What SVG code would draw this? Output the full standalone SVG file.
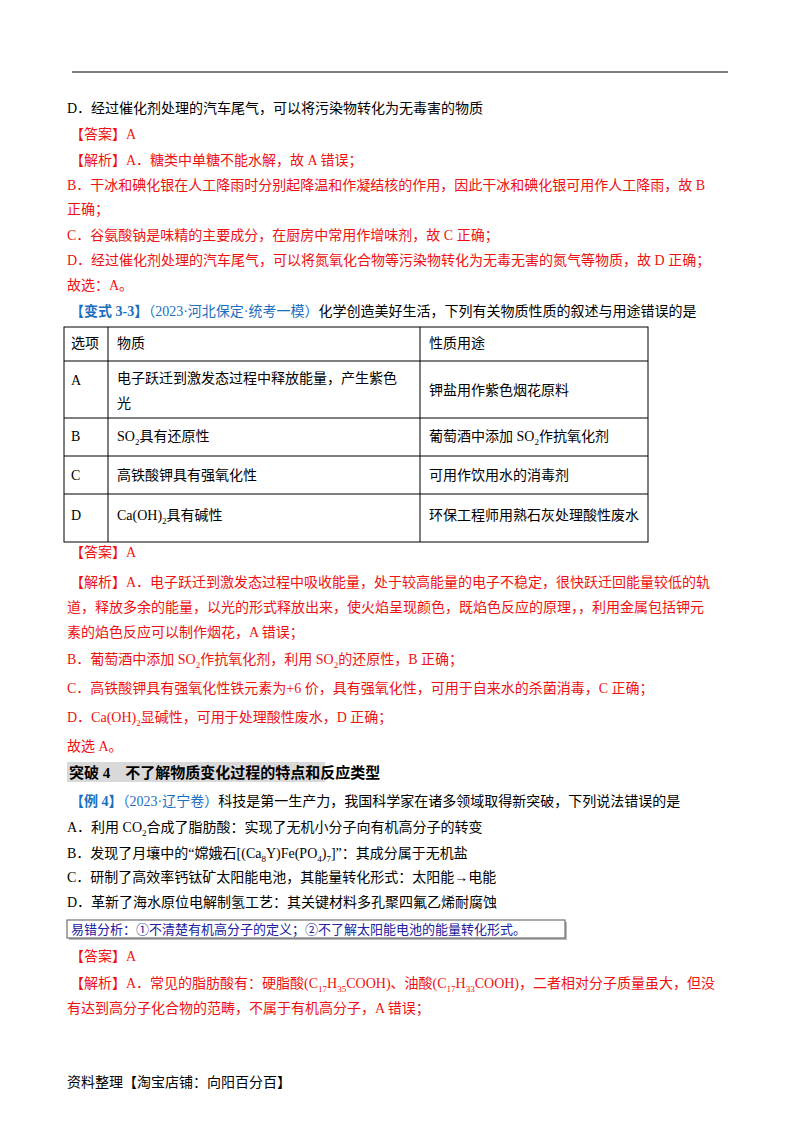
<svg xmlns="http://www.w3.org/2000/svg" width="800" height="1132" viewBox="0 0 800 1132">
<style>
text{font-family:"Liberation Serif","Noto Sans CJK SC",serif;font-size:14px;fill:#000}
.r{fill:#ee1111}
.b{fill:#1a6fc0}
.s{font-size:9px}
.tb{stroke:#000;stroke-width:1;fill:none}
.h{font-weight:bold;font-size:15px}
.k{fill:#2020a0;font-size:13px}
</style>
<rect width="800" height="1132" fill="#fff"/>
<line x1="72" y1="72" x2="728" y2="72" stroke="#000" stroke-width="1"/>
<text x="67" y="113">D．经过催化剂处理的汽车尾气，可以将污染物转化为无毒害的物质</text>
<text x="70" y="139" class="r">【答案】A</text>
<text x="70" y="165" class="r">【解析】A．糖类中单糖不能水解，故 A 错误；</text>
<text x="67" y="190" class="r">B．干冰和碘化银在人工降雨时分别起降温和作凝结核的作用，因此干冰和碘化银可用作人工降雨，故 B</text>
<text x="67" y="214" class="r">正确；</text>
<text x="67" y="240" class="r">C．谷氨酸钠是味精的主要成分，在厨房中常用作增味剂，故 C 正确；</text>
<text x="67" y="265" class="r">D．经过催化剂处理的汽车尾气，可以将氮氧化合物等污染物转化为无毒无害的氮气等物质，故 D 正确；</text>
<text x="67" y="290" class="r">故选：A。</text>
<text x="70" y="316"><tspan class="b" font-weight="bold">【变式 3-3】</tspan><tspan class="b">（2023·河北保定·统考一模）</tspan>化学创造美好生活，下列有关物质性质的叙述与用途错误的是</text>
<g id="table">
<rect class="tb" x="64" y="327" width="584" height="215"/>
<line class="tb" x1="64" y1="361" x2="648" y2="361"/>
<line class="tb" x1="64" y1="418" x2="648" y2="418"/>
<line class="tb" x1="64" y1="456" x2="648" y2="456"/>
<line class="tb" x1="64" y1="494" x2="648" y2="494"/>
<line class="tb" x1="108" y1="327" x2="108" y2="542"/>
<line class="tb" x1="420" y1="327" x2="420" y2="542"/>
<text x="71" y="348">选项</text><text x="117" y="348">物质</text><text x="429" y="348">性质用途</text>
<text x="71" y="385">A</text><text x="117" y="383">电子跃迁到激发态过程中释放能量，产生紫色</text><text x="117" y="408">光</text><text x="429" y="395">钾盐用作紫色烟花原料</text>
<text x="71" y="441">B</text><text x="117" y="441">SO<tspan class="s" dy="4">2</tspan><tspan dy="-4">具有还原性</tspan></text><text x="429" y="441">葡萄酒中添加 SO<tspan class="s" dy="4">2</tspan><tspan dy="-4">作抗氧化剂</tspan></text>
<text x="71" y="480">C</text><text x="117" y="480">高铁酸钾具有强氧化性</text><text x="429" y="480">可用作饮用水的消毒剂</text>
<text x="71" y="520">D</text><text x="117" y="520">Ca(OH)<tspan class="s" dy="4">2</tspan><tspan dy="-4">具有碱性</tspan></text><text x="429" y="520">环保工程师用熟石灰处理酸性废水</text>
</g>
<text x="70" y="557" class="r">【答案】A</text>
<text x="70" y="587" class="r">【解析】A．电子跃迁到激发态过程中吸收能量，处于较高能量的电子不稳定，很快跃迁回能量较低的轨</text>
<text x="67" y="612" class="r">道，释放多余的能量，以光的形式释放出来，使火焰呈现颜色，既焰色反应的原理，，利用金属包括钾元</text>
<text x="67" y="637" class="r">素的焰色反应可以制作烟花，A 错误；</text>
<text x="67" y="664" class="r">B．葡萄酒中添加 SO<tspan class="s" dy="4">2</tspan><tspan dy="-4">作抗氧化剂，利用 SO</tspan><tspan class="s" dy="4">2</tspan><tspan dy="-4">的还原性，B 正确；</tspan></text>
<text x="67" y="693" class="r">C．高铁酸钾具有强氧化性铁元素为+6 价，具有强氧化性，可用于自来水的杀菌消毒，C 正确；</text>
<text x="67" y="722" class="r">D．Ca(OH)<tspan class="s" dy="4">2</tspan><tspan dy="-4">显碱性，可用于处理酸性废水，D 正确；</tspan></text>
<text x="67" y="751" class="r">故选 A。</text>
<rect x="67" y="762" width="258" height="20" fill="#d9d9d9"/>
<text x="69" y="778" class="h">突破 4　不了解物质变化过程的特点和反应类型</text>
<text x="70" y="806"><tspan class="b" font-weight="bold">【例 4】</tspan><tspan class="b">（2023·辽宁卷）</tspan>科技是第一生产力，我国科学家在诸多领域取得新突破，下列说法错误的是</text>
<text x="67" y="832">A．利用 CO<tspan class="s" dy="4">2</tspan><tspan dy="-4">合成了脂肪酸：实现了无机小分子向有机高分子的转变</tspan></text>
<text x="67" y="858">B．发现了月壤中的“嫦娥石[(Ca<tspan class="s" dy="4">8</tspan><tspan dy="-4">Y)Fe(PO</tspan><tspan class="s" dy="4">4</tspan><tspan dy="-4">)</tspan><tspan class="s" dy="4">7</tspan><tspan dy="-4">]”：其成分属于无机盐</tspan></text>
<text x="67" y="882">C．研制了高效率钙钛矿太阳能电池，其能量转化形式：太阳能→电能</text>
<text x="67" y="907">D．革新了海水原位电解制氢工艺：其关键材料多孔聚四氟乙烯耐腐蚀</text>
<rect x="69" y="922" width="498" height="18" fill="#bbb"/>
<rect x="67" y="920" width="498" height="18" fill="#fff" stroke="#555" stroke-width="1"/>
<text x="71" y="934" class="k">易错分析：①不清楚有机高分子的定义；②不了解太阳能电池的能量转化形式。</text>
<text x="70" y="961" class="r">【答案】A</text>
<text x="70" y="988" class="r">【解析】A．常见的脂肪酸有：硬脂酸(C<tspan class="s" dy="4">17</tspan><tspan dy="-4">H</tspan><tspan class="s" dy="4">35</tspan><tspan dy="-4">COOH)、油酸(C</tspan><tspan class="s" dy="4">17</tspan><tspan dy="-4">H</tspan><tspan class="s" dy="4">33</tspan><tspan dy="-4">COOH)，二者相对分子质量虽大，但没</tspan></text>
<text x="67" y="1013" class="r">有达到高分子化合物的范畴，不属于有机高分子，A 错误；</text>
<text x="67" y="1087" font-size="13">资料整理【淘宝店铺：向阳百分百】</text>
</svg>
